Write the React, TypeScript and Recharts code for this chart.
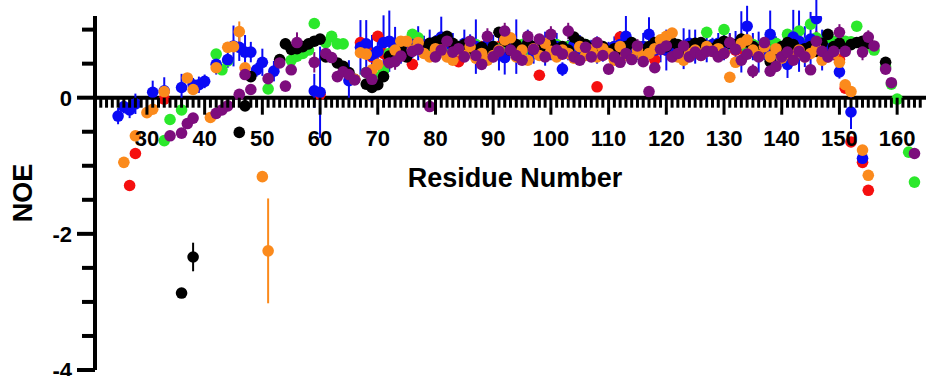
import { ErrorBar, ReferenceLine, Scatter, ScatterChart, XAxis, YAxis } from 'recharts'

// NOE per residue for each construct; arrays start at residue 21, null = no peak
const FIRST_RESIDUE = 21

const blueNoe = [
  null, null, null, null, -0.27, -0.13, -0.18, -0.09, null, null, // 21
  0.08, null, 0.1, null, null, 0.15, null, 0.19, 0.19, 0.24, // 31
  null, 0.49, null, 0.56, 0.76, 0.74, 0.67, 0.67, 0.41, 0.52, // 41
  null, 0.39, null, null, null, null, null, null, 0.1, 0.08, // 51
  null, null, null, null, 0.25, null, 0.74, 0.79, 0.62, 0.68, // 61
  0.81, 0.83, 0.79, 0.7, 0.75, 0.78, 0.8, 0.76, 0.8, 0.82, // 71
  0.89, 0.8, 0.75, 0.72, 0.8, 0.78, 0.75, 0.7, 0.78, 0.72, // 81
  0.7, 0.59, 0.78, 0.75, 0.7, 0.8, 0.65, 0.78, 0.72, 0.7, // 91
  0.75, 0.42, 0.7, 0.78, 0.72, 0.7, 0.75, 0.7, 0.68, 0.72, // 101
  0.75, 0.78, 0.9, 0.72, 0.65, 0.75, 0.93, 0.7, 0.72, 0.7, // 111
  0.75, 0.7, 0.72, 0.8, 0.75, 0.7, 0.72, 0.78, 0.8, 0.75, // 121
  0.8, 0.78, 0.82, 1.05, 0.75, 0.67, 0.7, 0.93, 0.7, 0.65, // 131
  0.49, 0.89, 0.83, 0.75, 0.86, 1.16, 0.7, 0.72, 0.7, 0.38, // 141
  null, -0.21, null, -0.89, null, null, null, null, null, null, // 151
  null, null, null, null, null, // 161
]

const blueErr = [
  0, 0, 0, 0, 0.12, 0.1, 0.12, 0.15, 0, 0,
  0.17, 0, 0.2, 0, 0, 0.2, 0, 0.1, 0.12, 0.1,
  0, 0.15, 0, 0.12, 0.3, 0.2, 0.25, 0.15, 0.1, 0.2,
  0, 0.15, 0, 0, 0, 0, 0, 0, 0.25, 0.67,
  0, 0, 0, 0, 0.3, 0, 0.4, 0.35, 0.3, 0.25,
  0.4, 0.45, 0.25, 0.2, 0.15, 0.2, 0.25, 0.15, 0.2, 0.1,
  0.3, 0.15, 0.2, 0.1, 0.2, 0.15, 0.4, 0.1, 0.15, 0.2,
  0.3, 0.25, 0.15, 0.4, 0.1, 0.2, 0.15, 0.1, 0.25, 0.15,
  0.2, 0.1, 0.15, 0.1, 0.2, 0.15, 0.1, 0.2, 0.15, 0.1,
  0.15, 0.2, 0.3, 0.15, 0.1, 0.2, 0.25, 0.15, 0.2, 0.3,
  0.2, 0.15, 0.3, 0.2, 0.25, 0.15, 0.2, 0.1, 0.15, 0.2,
  0.15, 0.2, 0.45, 0.3, 0.2, 0.3, 0.15, 0.35, 0.2, 0.15,
  0.2, 0.4, 0.45, 0.3, 0.4, 0.5, 0.3, 0.2, 0.15, 0.1,
  0, 0.25, 0, 0.1, 0, 0, 0, 0, 0, 0,
  0, 0, 0, 0, 0,
]

const greenNoe = [
  null, null, null, null, null, null, null, null, null, null, // 21
  null, null, -0.63, -0.32, null, -0.18, null, null, null, null, // 31
  null, 0.64, 0.41, 0.54, null, null, null, null, null, null, // 41
  0.13, null, null, null, 0.55, 0.61, 0.65, 0.7, 1.09, null, // 51
  0.81, 0.9, 0.79, 0.79, null, null, null, 0.37, 0.25, 0.3, // 61
  0.4, 0.65, 0.7, 0.72, 0.75, 0.93, 0.88, 0.72, 0.75, 0.7, // 71
  0.72, 0.78, 0.7, 0.72, 0.75, 0.7, 0.78, 0.72, 0.7, 0.75, // 81
  0.72, 0.7, 0.75, 0.72, 0.78, 0.7, 0.72, 0.75, 0.7, 0.72, // 91
  0.78, 0.72, 0.75, 0.7, 0.72, 0.78, 0.75, 0.7, 0.72, 0.7, // 101
  0.75, 0.72, 0.78, 0.7, 0.72, 0.75, 0.7, 0.72, 0.75, 0.78, // 111
  0.72, 0.75, 0.7, 0.72, 0.75, 0.8, 0.96, 0.78, 0.75, 1.0, // 121
  0.78, 0.75, 0.8, 0.72, 0.78, 0.75, 0.72, 0.78, 0.8, 0.75, // 131
  0.93, 0.85, 0.98, 0.8, 1.08, 0.88, 0.8, 0.85, 0.83, 0.8, // 141
  0.83, 0.82, 1.05, 0.8, 0.78, 0.7, null, 0.45, 0.2, -0.02, // 151
  null, -0.8, -1.24, null, null, // 161
]

const blackNoe = [
  null, null, null, null, null, null, null, null, null, null, // 21
  null, null, null, null, null, -2.87, null, -2.34, null, null, // 31
  null, null, null, null, null, -0.51, -0.12, 0.31, null, null, // 41
  null, null, 0.56, 0.79, 0.71, 0.72, 0.75, 0.79, 0.83, 0.86, // 51
  0.6, null, 0.51, 0.46, 0.37, 0.27, null, 0.2, 0.15, 0.19, // 61
  0.31, 0.61, 0.65, 0.72, 0.6, 0.7, 0.75, 0.72, 0.8, 0.82, // 71
  0.85, 0.9, 0.8, 0.75, 0.78, 0.72, 0.7, 0.74, 0.67, 0.75, // 81
  0.96, 0.83, 0.7, 0.78, 0.72, 0.8, 0.75, 0.7, 0.78, 0.8, // 91
  0.72, 0.75, 0.7, 0.89, 0.82, 0.78, 0.72, 0.7, 0.75, 0.68, // 101
  0.72, 0.7, 0.75, 0.81, 0.72, 0.7, 0.75, 0.81, 0.72, 0.75, // 111
  0.81, 0.78, 0.72, 0.75, 0.8, 0.81, 0.75, 0.72, 0.78, 0.83, // 121
  0.8, 0.78, 0.86, 0.82, 0.75, 0.7, 0.78, 0.53, 0.7, 0.75, // 131
  0.81, 0.78, 0.7, 0.72, 0.75, 0.68, 0.8, 0.93, 0.75, 0.8, // 141
  0.72, 0.78, 0.81, 0.83, 0.8, null, null, 0.52, null, null, // 151
  null, null, null, null, null, // 161
]

const orangeNoe = [
  null, null, null, null, null, -0.95, null, -0.56, null, -0.22, // 21
  -0.17, null, 0.09, null, null, null, 0.29, 0.12, null, null, // 31
  -0.29, 0.44, null, 0.74, 0.75, 0.97, 0.44, null, null, -1.16, // 41
  -2.25, null, null, null, null, null, null, null, null, null, // 51
  null, null, null, null, null, 0.27, 0.66, 0.64, 0.41, 0.49, // 61
  null, null, 0.7, 0.83, 0.83, 0.7, 0.81, 0.65, 0.6, 0.72, // 71
  0.7, 0.6, 0.55, 0.7, 0.62, 0.75, 0.58, 0.65, 0.55, 0.62, // 81
  0.7, 0.85, 0.88, 0.6, 0.7, 0.55, 0.72, 0.62, 0.8, 0.68, // 91
  0.6, 0.7, 0.65, 0.58, 0.75, 0.62, 0.7, 0.6, 0.72, 0.65, // 101
  0.55, 0.75, 0.62, 0.58, 0.7, 0.6, 0.65, 0.72, 0.85, 0.9, // 111
  0.95, 0.6, 0.55, 0.65, 0.7, 0.62, 0.75, 0.68, 0.72, 0.65, // 121
  0.3, 0.52, 0.8, 0.85, 0.7, 0.62, 0.75, 0.6, 0.72, 0.58, // 131
  0.65, 0.62, 0.7, 0.6, 0.65, 0.72, 0.55, 0.6, 0.65, 0.52, // 141
  0.19, 0.09, null, -0.77, -1.14, null, null, null, null, null, // 151
  null, null, null, null, null, // 161
]

const redNoe = [
  null, null, null, null, null, null, -1.29, -0.82, null, null, // 21
  null, null, -0.02, null, null, null, null, null, null, null, // 31
  null, null, null, null, null, null, null, null, null, null, // 41
  null, null, null, null, null, null, null, null, null, 0.05, // 51
  null, null, null, null, null, null, 0.81, 0.7, 0.6, 0.9, // 61
  0.65, 0.55, 0.6, 0.7, 0.65, 0.49, 0.72, 0.75, 0.7, 0.78, // 71
  0.72, 0.7, 0.75, 0.53, 0.7, 0.72, 0.68, 0.75, 0.7, 0.72, // 81
  0.75, 0.7, 0.72, 0.68, 0.75, 0.7, 0.72, 0.33, 0.7, 0.75, // 91
  0.72, 0.7, 0.75, 0.68, 0.72, 0.7, 0.75, 0.16, 0.7, 0.72, // 101
  0.75, 0.89, 0.7, 0.72, 0.68, 0.75, 0.7, 0.56, 0.72, 0.7, // 111
  0.75, 0.72, 0.7, 0.68, 0.75, 0.7, 0.72, 0.75, 0.7, 0.72, // 121
  0.75, 0.7, 0.72, 0.75, 0.7, 0.68, 0.72, 0.75, 0.7, 0.72, // 131
  0.7, 0.75, 0.72, 0.7, 0.75, 0.72, 0.7, 0.68, 0.72, 0.56, // 141
  0.14, -0.65, null, -0.95, -1.36, null, null, null, null, null, // 151
  null, null, null, null, null, // 161
]

const purpleNoe = [
  null, null, null, null, null, null, null, null, null, null, // 21
  null, null, null, -0.56, null, -0.52, -0.38, -0.3, null, null, // 31
  null, -0.23, -0.18, -0.12, null, 0.05, 0.34, 0.12, null, null, // 41
  0.28, null, 0.51, 0.17, 0.41, 0.81, null, null, 0.52, null, // 51
  0.65, 0.59, 0.31, 0.38, 0.34, 0.26, null, 0.37, 0.27, null, // 61
  null, 0.51, 0.53, 0.61, null, 0.68, 0.71, null, -0.13, 0.6, // 71
  0.7, 0.83, 0.67, 0.72, 0.6, 0.83, 0.62, 0.49, 0.9, 0.6, // 81
  0.68, 0.98, 0.7, 0.62, 0.55, 0.9, 0.71, 0.86, 0.6, 0.93, // 91
  0.7, 0.64, 0.98, 0.6, 0.55, 0.74, 0.6, 0.81, 0.62, 0.42, // 101
  0.6, 0.52, 0.65, 0.56, 0.76, 0.53, 0.09, 0.44, 0.71, 0.76, // 111
  0.6, 0.65, 0.76, 0.6, 0.67, 0.62, 0.68, 0.68, 0.6, 0.65, // 121
  0.81, 0.71, 0.55, 0.64, 0.39, 0.6, 0.81, 0.39, 0.46, 0.6, // 131
  0.67, 0.55, 0.68, 0.6, 0.41, 0.83, 0.68, 0.6, 0.68, 0.96, // 141
  0.68, null, null, 0.67, 0.89, 0.76, null, 0.42, 0.22, null, // 151
  null, null, -0.82, null, null, // 161
]

// errors for the other constructs, keyed by residue (most are hidden by the dot)
const blackErr: Record<number, number> = { 36: 0.04, 38: 0.21, 54: 0.08 }
const orangeErr: Record<number, number> = { 46: 0.15, 51: 0.77 }
const purpleErr: Record<number, number> = {
  56: 0.15, 59: 0.15, 73: 0.12, 89: 0.12, 92: 0.12, 100: 0.12, 103: 0.12, 115: 0.1,
  131: 0.12, 135: 0.1, 146: 0.15, 150: 0.12, 154: 0.12, 155: 0.1,
}

const X_DOMAIN: [number, number] = [21, 165]
const Y_DOMAIN: [number, number] = [-4, 1.2]
const X_TICKS = Array.from({ length: 143 }, (_, i) => 22 + i)
const Y_TICKS = [-4, -3.5, -3, -2.5, -2, -1.5, -1, -0.5, 0, 0.5, 1]
const Y_LABELED = [0, -2, -4]

const W = 929
const H = 376
const MARGIN = { top: 16, right: 3, bottom: 5, left: 15 }
const Y_AXIS_W = 80
const X_AXIS_H = 1
const PLOT_H = H - MARGIN.top - MARGIN.bottom - X_AXIS_H
const ZERO_Y = MARGIN.top + (PLOT_H * Y_DOMAIN[1]) / (Y_DOMAIN[1] - Y_DOMAIN[0])

const FONT = '"Liberation Sans", Arial, Helvetica, sans-serif'

type Pt = { residue: number; noe: number; err: number }

function toPoints(noe: (number | null)[], errs: Record<number, number> = {}): Pt[] {
  const pts: Pt[] = []
  noe.forEach((v, i) => {
    if (v === null) return
    const residue = FIRST_RESIDUE + i
    pts.push({ residue, noe: v, err: errs[residue] ?? 0 })
  })
  return pts
}

const blueErrByResidue = Object.fromEntries(blueErr.map((e, i) => [FIRST_RESIDUE + i, e]))

// drawn bottom to top
const series = [
  { name: 'red', color: '#f50f0f', data: toPoints(redNoe) },
  { name: 'green', color: '#2be82b', data: toPoints(greenNoe) },
  { name: 'blue', color: '#0a0af5', data: toPoints(blueNoe, blueErrByResidue) },
  { name: 'black', color: '#000000', data: toPoints(blackNoe, blackErr) },
  { name: 'orange', color: '#fb8a1c', data: toPoints(orangeNoe, orangeErr) },
  { name: 'purple', color: '#7d0d7d', data: toPoints(purpleNoe, purpleErr) },
]

const dot = (p: any) => <circle cx={p.cx} cy={p.cy} r={5.8} fill={p.fill} />

function ResidueTick(props: any) {
  const { x, payload } = props
  const v = payload.value as number
  const major = v % 10 === 0
  return (
    <g>
      <line x1={x} x2={x} y1={ZERO_Y} y2={ZERO_Y + (major ? 17 : 10)} stroke="#000" strokeWidth={3} />
      {major && v >= 30 && (
        <text x={x} y={ZERO_Y + 48} textAnchor="middle" fontFamily={FONT} fontWeight="bold" fontSize={22} fill="#000">
          {v}
        </text>
      )}
    </g>
  )
}

function NoeTick(props: any) {
  const { x, y, payload } = props
  const v = payload.value as number
  const labeled = Y_LABELED.includes(v)
  return (
    <g>
      <line x1={x - (labeled ? 18 : 13)} x2={x} y1={y} y2={y} stroke="#000" strokeWidth={4} />
      {labeled && (
        <text x={x - 23} y={y + 8} textAnchor="end" fontFamily={FONT} fontWeight="bold" fontSize={22} fill="#000">
          {v}
        </text>
      )}
    </g>
  )
}

export default function App() {
  return (
    <div style={{ position: 'relative', width: W, height: H, background: '#fff' }}>
      <style>{'body{margin:0}'}</style>
      <ScatterChart width={W} height={H} margin={MARGIN}>
        <XAxis
          type="number"
          dataKey="residue"
          domain={X_DOMAIN}
          ticks={X_TICKS}
          interval={0}
          height={X_AXIS_H}
          axisLine={false}
          tickLine={false}
          tickSize={0}
          tickMargin={0}
          tick={<ResidueTick />}
          allowDataOverflow
        />
        <YAxis
          type="number"
          dataKey="noe"
          domain={Y_DOMAIN}
          ticks={Y_TICKS}
          interval={0}
          width={Y_AXIS_W}
          axisLine={{ stroke: '#000', strokeWidth: 4 }}
          tickLine={false}
          tickSize={0}
          tickMargin={0}
          tick={<NoeTick />}
          allowDataOverflow
        />
        <ReferenceLine y={0} stroke="#000" strokeWidth={4} />
        {series.map((s) => (
          <Scatter key={s.name} name={s.name} data={s.data} fill={s.color} shape={dot} isAnimationActive={false}>
            <ErrorBar dataKey="err" direction="y" width={0} stroke={s.color} strokeWidth={2} />
          </Scatter>
        ))}
      </ScatterChart>
      <div
        style={{
          position: 'absolute',
          left: 515,
          top: 165,
          transform: 'translateX(-50%)',
          whiteSpace: 'nowrap',
          fontFamily: FONT,
          fontWeight: 'bold',
          fontSize: 27,
          lineHeight: 1,
        }}
      >
        Residue Number
      </div>
      <div
        style={{
          position: 'absolute',
          left: 23,
          top: 193,
          transform: 'translate(-50%, -50%) rotate(-90deg)',
          whiteSpace: 'nowrap',
          fontFamily: FONT,
          fontWeight: 'bold',
          fontSize: 27,
          lineHeight: 1,
        }}
      >
        NOE
      </div>
    </div>
  )
}
